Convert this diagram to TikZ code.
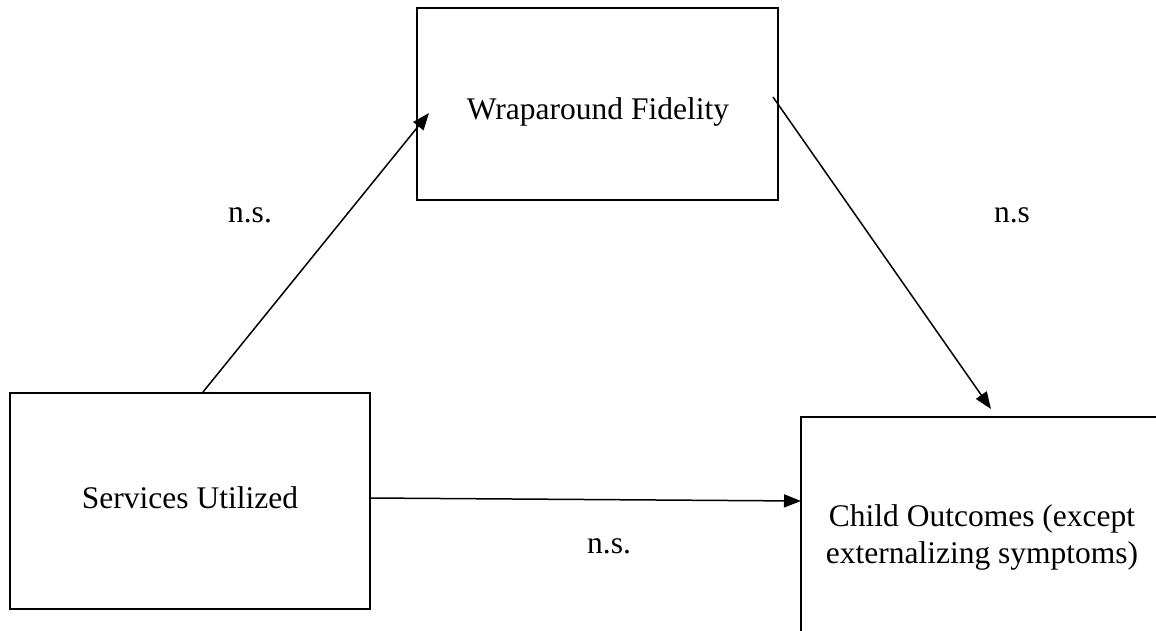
\documentclass[tikz,border=0pt]{standalone}
\usepackage{fontspec}
\setmainfont{Liberation Serif}
\usetikzlibrary{arrows.meta}
\begin{document}
\begin{tikzpicture}[x=1pt,y=-1pt,
  box/.style={draw,line width=2pt,inner sep=0pt},
  boxtext/.style={font=\fontsize{31.5}{37}\selectfont,align=center,inner sep=0pt},
  conn/.style={line width=1.5pt,-{Triangle[length=17pt,width=13pt]}},
  lab/.style={font=\fontsize{31.5}{37}\selectfont,inner sep=0pt}]
\useasboundingbox (0,0) rectangle (1156,630);
\clip (0,0) rectangle (1156,630);
\fill[white] (0,0) rectangle (1156,630);
\node[box,minimum width=361pt,minimum height=192pt] (wf) at (597.5,104) {};
\node[boxtext] (wft) at (598,112) {Wraparound Fidelity};
\node[box,minimum width=360pt,minimum height=216pt] (su) at (190,501) {};
\node[boxtext] (sut) at (190,498) {Services Utilized};
\node[box,minimum width=380pt,minimum height=260pt] (co) at (991,547) {};
\node[boxtext] (cot) at (982,537) {Child Outcomes (except\\externalizing symptoms)};
\coordinate (a1s) at (203,392);
\coordinate (a1e) at (429,113);
\coordinate (a2s) at (773,97);
\coordinate (a2e) at (991,409);
\coordinate (a3s) at (370,498);
\coordinate (a3e) at (801,501);
\draw[conn] (a1s) -- (a1e);
\draw[conn] (a2s) -- (a2e);
\draw[conn] (a3s) -- (a3e);
\node[lab] (l1) at (250,215) {n.s.};
\node[lab] (l2) at (1012,215) {n.s};
\node[lab] (l3) at (609,546) {n.s.};
\end{tikzpicture}
\end{document}
